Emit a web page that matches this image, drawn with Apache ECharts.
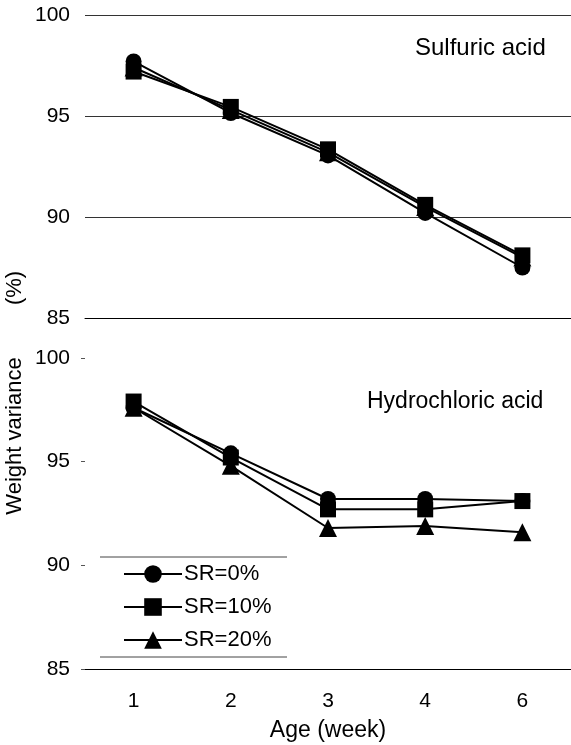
<!DOCTYPE html>
<html><head><meta charset="utf-8">
<script src="https://cdn.jsdelivr.net/npm/echarts@6/dist/echarts.min.js"></script>
<style>html,body{margin:0;padding:0;background:#fff;overflow:hidden}#c{width:571px;height:745px}</style>
</head><body><div id="c"></div>
<script>
var categories = ['1', '2', '3', '4', '6'];
var seriesNames = ['SR=0%', 'SR=10%', 'SR=20%'];
var sulfuric0 = [97.7, 95.15, 93.05, 90.2, 87.5];
var sulfuric10 = [97.2, 95.45, 93.35, 90.6, 88.1];
var sulfuric20 = [97.4, 95.3, 93.2, 90.5, 88.0];
var hcl0 = [97.6, 95.4, 93.2, 93.2, 93.1];
var hcl10 = [97.9, 95.2, 92.7, 92.7, 93.1];
var hcl20 = [97.6, 94.8, 91.8, 91.9, 91.6];
var yTicks = [85, 90, 95, 100];
var panelTitles = ['Sulfuric acid', 'Hydrochloric acid'];

var FONT = 'Liberation Sans, Arial, sans-serif';
var symbols = ['circle', 'rect', 'triangle'];
var symSizes = [16, 16, 18];

function mkSeries(name, data, idx, gi) {
  return {
    name: name, type: 'line', data: data,
    xAxisIndex: gi, yAxisIndex: gi,
    symbol: symbols[idx], symbolSize: symSizes[idx],
    lineStyle: { color: '#000', width: 2 },
    itemStyle: { color: '#000' },
    z: 3 + idx
  };
}

var chart = echarts.init(document.getElementById('c'), null, { renderer: 'canvas', width: 571, height: 745 });
var option = {
  animation: false,
  backgroundColor: '#fff',
  grid: [
    { left: 85, right: 0, top: 15, bottom: 427, outerBoundsMode: 'none', containLabel: false },
    { left: 85, right: 0, top: 358, bottom: 76, outerBoundsMode: 'none', containLabel: false }
  ],
  xAxis: [
    { gridIndex: 0, type: 'category', data: categories, boundaryGap: true,
      axisLine: { lineStyle: { color: '#000', width: 1 } }, axisTick: { show: false },
      axisLabel: { show: false } },
    { gridIndex: 1, type: 'category', data: categories, boundaryGap: true,
      axisLine: { lineStyle: { color: '#000', width: 1 } }, axisTick: { show: false },
      axisLabel: { color: '#000', fontSize: 21, fontFamily: FONT, margin: 22 },
      name: 'Age (week)', nameLocation: 'middle', nameGap: 50,
      nameTextStyle: { color: '#000', fontSize: 23, fontFamily: FONT } }
  ],
  yAxis: [
    { gridIndex: 0, type: 'value', min: yTicks[0], max: yTicks[yTicks.length - 1], interval: 5,
      axisLine: { show: false }, axisTick: { show: false },
      axisLabel: { color: '#000', fontSize: 21, fontFamily: FONT, margin: 15 },
      splitLine: { show: true, lineStyle: { color: '#333', width: 1 } } },
    { gridIndex: 1, type: 'value', min: yTicks[0], max: yTicks[yTicks.length - 1], interval: 5,
      axisLine: { show: false }, axisTick: { show: true, length: 4, inside: false, lineStyle: { color: '#555' } },
      axisLabel: { color: '#000', fontSize: 21, fontFamily: FONT, margin: 15 },
      splitLine: { show: false } }
  ],
  legend: {
    left: 118, top: 558, orient: 'vertical', itemGap: 11,
    itemWidth: 58, itemHeight: 22,
    textStyle: { color: '#000', fontSize: 22, fontFamily: FONT, padding: [0, 0, 0, -3] },
    data: seriesNames
  },
  graphic: [
    { type: 'line', shape: { x1: 100, y1: 557, x2: 287, y2: 557 }, style: { stroke: '#444', lineWidth: 1 } },
    { type: 'line', shape: { x1: 100, y1: 657, x2: 287, y2: 657 }, style: { stroke: '#444', lineWidth: 1 } },
    { type: 'text', left: 415, top: 36, style: { text: panelTitles[0], fill: '#000', font: '24px ' + FONT } },
    { type: 'text', left: 367, top: 390, style: { text: panelTitles[1], fill: '#000', font: '23px ' + FONT } },
    { type: 'text', x: 4, y: 436, rotation: Math.PI / 2,
      style: { text: 'Weight variance', fill: '#000', font: '22px ' + FONT, align: 'center', verticalAlign: 'top' } },
    { type: 'text', x: 4, y: 288, rotation: Math.PI / 2,
      style: { text: '(%)', fill: '#000', font: '22px ' + FONT, align: 'center', verticalAlign: 'top' } }
  ],
  series: [
    mkSeries(seriesNames[0], sulfuric0, 0, 0),
    mkSeries(seriesNames[1], sulfuric10, 1, 0),
    mkSeries(seriesNames[2], sulfuric20, 2, 0),
    mkSeries(seriesNames[0], hcl0, 0, 1),
    mkSeries(seriesNames[1], hcl10, 1, 1),
    mkSeries(seriesNames[2], hcl20, 2, 1)
  ]
};
chart.setOption(option);
</script></body></html>
